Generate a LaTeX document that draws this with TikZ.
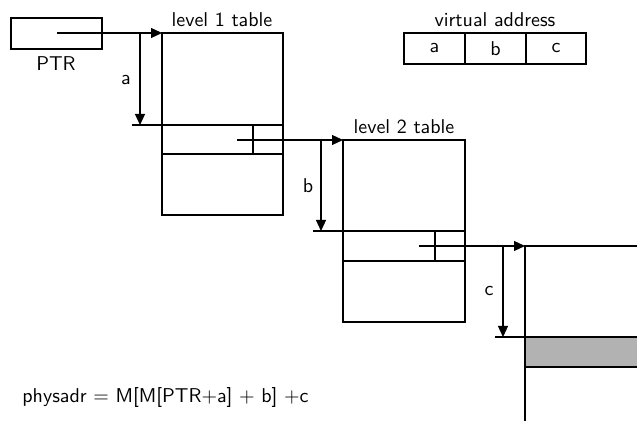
\documentclass[tikz,border=0pt]{standalone}
\usetikzlibrary{arrows.meta}
\begin{document}
\begin{tikzpicture}[x=0.5pt,y=-0.5pt,font=\sffamily,
  lineA/.style={line width=0.6pt},
  rowline/.style={line width=1.1pt},
  ptrarrow/.style={line width=0.6pt,-{Triangle[length=5.5pt,width=5pt]}},
  lbl/.style={inner sep=0pt}]
\useasboundingbox (0,0) rectangle (637,421);
% PTR
\coordinate (ptrTL) at (11,18);
\coordinate (ptrBR) at (102,49);
\draw[lineA] (ptrTL) rectangle (ptrBR);
\node[lbl] (ptrlbl) at (56,64) {PTR};
\coordinate (ptrS) at (57,33);
% level 1 table
\coordinate (t1TL) at (162,33);
\coordinate (t1BR) at (283,215);
\draw[lineA] (t1TL) rectangle (t1BR);
\node[lbl] (t1lbl) at (222,20) {level 1 table};
\draw[ptrarrow] (ptrS) -- (t1TL);
\coordinate (aTop) at (140,33);
\coordinate (aBot) at (140,125);
\coordinate (aTick) at (132,125);
\coordinate (r1L) at (162,125);
\coordinate (r1R) at (283,125);
\coordinate (r1BL) at (162,154);
\coordinate (r1BR) at (283,154);
\coordinate (r1dT) at (253,125);
\coordinate (r1dB) at (253,154);
\draw[ptrarrow] (aTop) -- (aBot);
\draw[lineA] (aTick) -- (r1L);
\node[lbl] (albl) at (126,80) {a};
\draw[rowline] (r1L) -- (r1R) (r1BL) -- (r1BR);
\draw[lineA] (r1dT) -- (r1dB);
\coordinate (p1S) at (237,140);
% level 2 table
\coordinate (t2TL) at (343,140);
\coordinate (t2BR) at (465,322);
\draw[lineA] (t2TL) rectangle (t2BR);
\node[lbl] (t2lbl) at (404,127) {level 2 table};
\draw[ptrarrow] (p1S) -- (t2TL);
\coordinate (bTop) at (321,140);
\coordinate (bBot) at (321,231);
\coordinate (bTick) at (313,231);
\coordinate (r2L) at (343,231);
\coordinate (r2R) at (465,231);
\coordinate (r2BL) at (343,261);
\coordinate (r2BR) at (465,261);
\coordinate (r2dT) at (435,231);
\coordinate (r2dB) at (435,261);
\draw[ptrarrow] (bTop) -- (bBot);
\draw[lineA] (bTick) -- (r2L);
\node[lbl] (blbl) at (308,186) {b};
\draw[rowline] (r2L) -- (r2R) (r2BL) -- (r2BR);
\draw[lineA] (r2dT) -- (r2dB);
\coordinate (p2S) at (419,246);
% page
\coordinate (pgTL) at (525,246);
\coordinate (pgTR) at (637,246);
\coordinate (pgBL) at (525,421);
\draw[ptrarrow] (p2S) -- (pgTL);
\draw[lineA] (pgTR) -- (pgTL) -- (pgBL);
\coordinate (cTop) at (503,246);
\coordinate (cBot) at (503,337);
\coordinate (cTick) at (495,337);
\coordinate (r3L) at (525,337);
\coordinate (r3R) at (637,337);
\coordinate (r3BL) at (525,367);
\coordinate (r3BR) at (637,367);
\fill[black!30] (r3L) rectangle (r3BR);
\draw[ptrarrow] (cTop) -- (cBot);
\draw[lineA] (cTick) -- (r3L);
\node[lbl] (clbl) at (489,291) {c};
\draw[rowline] (r3L) -- (r3R) (r3BL) -- (r3BR);
\draw[lineA] (pgTL) -- (pgBL);
% virtual address
\coordinate (vaTL) at (404,33);
\coordinate (vaBR) at (586,64);
\draw[lineA] (vaTL) rectangle (vaBR);
\draw[lineA] (465,33) -- (465,64) (526,33) -- (526,64);
\node[lbl] (valbl) at (495,20) {virtual address};
\node[lbl] (vaa) at (434.5,48.5) {a};
\node[lbl] (vab) at (495.5,48.5) {b};
\node[lbl] (vac) at (556,48.5) {c};
% formula
\node[lbl,anchor=west] (form) at (22,398) {physadr $=$ M[M[PTR$+$a] $+$ b] $+$c};
\end{tikzpicture}
\end{document}
